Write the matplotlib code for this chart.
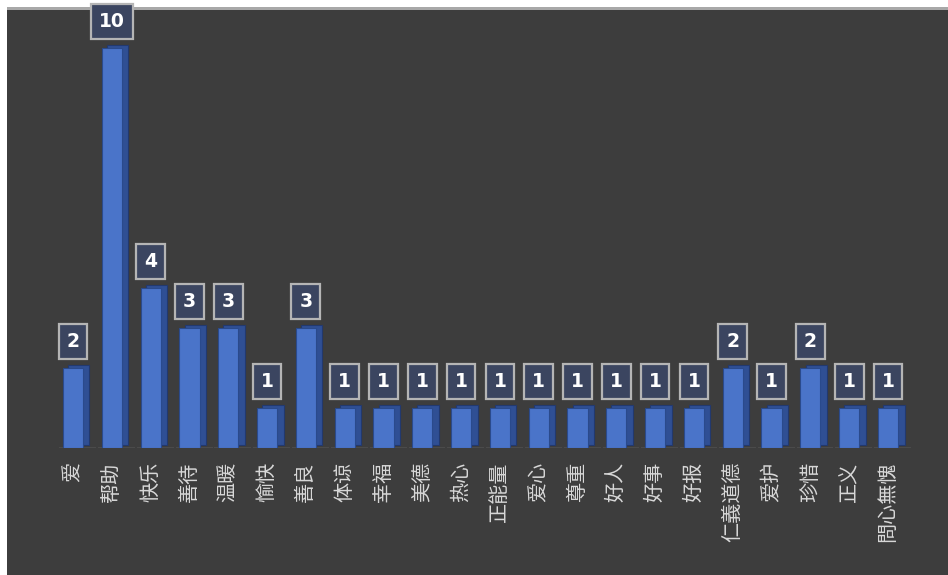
import numpy as np
import matplotlib
matplotlib.use("Agg")
import matplotlib.pyplot as plt
from matplotlib.patches import Rectangle

plt.rcParams['font.family'] = ['Noto Sans CJK SC', 'DejaVu Sans']

words = ['爱', '帮助', '快乐', '善待', '温暖', '愉快', '善良', '体谅', '幸福', '美德',
         '热心', '正能量', '爱心', '尊重', '好人', '好事', '好报', '仁義道德', '爱护',
         '珍惜', '正义', '問心無愧']
counts = [2, 10, 4, 3, 3, 1, 3, 1, 1, 1, 1, 1, 1, 1, 1, 1, 1, 2, 1, 2, 1, 1]

bg = '#3d3d3d'
front = '#4a74c9'
side = '#2f4f94'

fig = plt.figure(figsize=(9.48, 5.75), dpi=100, facecolor='white')

# dark panel with light top rule
fig.add_artist(Rectangle((7 / 948, 0), 1, (575 - 10) / 575, transform=fig.transFigure,
                         facecolor=bg, edgecolor='none', zorder=-10))
fig.add_artist(Rectangle((7 / 948, (575 - 10) / 575), 1, 3 / 575, transform=fig.transFigure,
                         facecolor='#a8a8a8', edgecolor='none', zorder=-9))

ax = fig.add_axes([40 / 948, 127 / 575, 881 / 948, 420 / 575])
ax.set_facecolor('none')

x = np.arange(len(words))

# floor shadow
ax.bar(x + 0.12, [0.07] * len(x), width=0.95, bottom=-0.035, color='#4b4b4b', zorder=1)
# depth (side + top) then front face
ax.bar(x + 0.15, counts, width=0.55, bottom=0.08, color=side, edgecolor='#22396e',
       linewidth=0.8, zorder=2)
ax.bar(x, counts, width=0.52, color=front, edgecolor='#2a4a8c', linewidth=0.8, zorder=3)

for xi, c in zip(x, counts):
    ax.annotate(str(c), (xi, c), xytext=(0, 19), textcoords='offset points',
                ha='center', va='center', color='white', fontsize=13.5,
                fontweight='bold', family='DejaVu Sans', zorder=5, annotation_clip=False,
                bbox=dict(boxstyle='square,pad=0.42', facecolor='#3b4560',
                          edgecolor='#b5b5b5', linewidth=1.6))

ax.set_xlim(-0.85, 21.85)
ax.set_ylim(0, 10.5)
ax.set_xticks(x)
ax.set_xticklabels(words, rotation=90, fontsize=14.5, color='#d8d8d8')
ax.tick_params(axis='x', length=0, pad=10)
ax.set_yticks([])
for s in ax.spines.values():
    s.set_visible(False)

fig.savefig('out.png', dpi=100, facecolor=fig.get_facecolor())
